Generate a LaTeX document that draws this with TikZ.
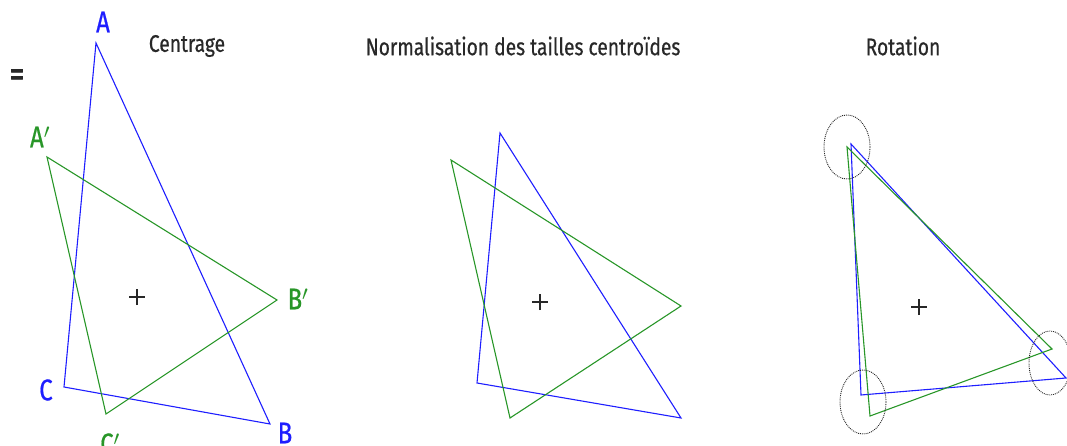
\documentclass[tikz,border=0pt]{standalone}
\usepackage{fontspec}
\setmainfont{Fira Sans}[FakeStretch=0.8,FakeBold=0.6]
\definecolor{tblue}{RGB}{30,30,255}
\definecolor{tgreen}{RGB}{40,150,40}
\definecolor{tgray}{RGB}{40,40,40}
\begin{document}
\begin{tikzpicture}[x=1pt,y=-1pt,
  tri/.style={line width=1.1pt,line join=miter},
  bluetri/.style={tri,draw=tblue},
  greentri/.style={tri,draw=tgreen},
  title/.style={font=\fontsize{24}{26}\selectfont,text=tgray,inner sep=0pt},
  bl/.style={font=\fontsize{30}{32}\selectfont,text=tblue,inner sep=0pt},
  gl/.style={font=\fontsize{30}{32}\selectfont,text=tgreen,inner sep=0pt},
  ring/.style={draw=tgray,densely dotted,line width=0.9pt},
  cross/.style={draw=tgray,line width=1.2pt}]
\useasboundingbox (0,0) rectangle (1067,446);
% titles
\node[title] (t1) at (187,46) {Centrage};
\node[title] (t2) at (523,46) {Normalisation des tailles centroïdes};
\node[title] (t3) at (903,46) {Rotation};
\node[font=\fontsize{36}{38}\selectfont\addfontfeature{FakeBold=2},text=tgray,inner sep=0pt] (eq) at (17,78) {=};
% panel 1
\coordinate (A1) at (96,43); \coordinate (B1) at (270,424); \coordinate (C1) at (64,387);
\coordinate (Ap1) at (47,157); \coordinate (Bp1) at (277,300); \coordinate (Cp1) at (106,414);
\draw[bluetri] (A1) -- (B1) -- (C1) -- cycle;
\draw[greentri] (Ap1) -- (Bp1) -- (Cp1) -- cycle;
\coordinate (G1) at (137,297);
\draw[cross] ([xshift=-8pt]G1) -- ([xshift=8pt]G1) ([yshift=-8pt]G1) -- ([yshift=8pt]G1);
\node[bl] (lA) at (103,22) {A};
\node[bl] (lB) at (285,433) {B};
\node[bl] (lC) at (46,390) {C};
\node[gl] (lAp) at (40,137) {A$'$};
\node[gl] (lBp) at (298,299) {B$'$};
\node[gl] (lCp) at (110,444) {C$'$};
% panel 2
\coordinate (A2) at (500,133); \coordinate (B2) at (681,418); \coordinate (C2) at (477,383);
\coordinate (Ap2) at (451,160); \coordinate (Bp2) at (681,306); \coordinate (Cp2) at (510,418);
\draw[bluetri] (A2) -- (B2) -- (C2) -- cycle;
\draw[greentri] (Ap2) -- (Bp2) -- (Cp2) -- cycle;
\coordinate (G2) at (540,302);
\draw[cross] ([xshift=-8pt]G2) -- ([xshift=8pt]G2) ([yshift=-8pt]G2) -- ([yshift=8pt]G2);
% panel 3
\coordinate (A3) at (851,144); \coordinate (B3) at (1066,378); \coordinate (C3) at (861,395);
\coordinate (Ap3) at (847,147); \coordinate (Bp3) at (1052,349); \coordinate (Cp3) at (870,416);
\draw[bluetri] (A3) -- (B3) -- (C3) -- cycle;
\draw[greentri] (Ap3) -- (Bp3) -- (Cp3) -- cycle;
\coordinate (G3) at (919,307);
\draw[cross] ([xshift=-8pt]G3) -- ([xshift=8pt]G3) ([yshift=-8pt]G3) -- ([yshift=8pt]G3);
\draw[ring] (847,147) ellipse [x radius=23, y radius=32];
\draw[ring] (863,402) ellipse [x radius=23, y radius=32];
\draw[ring] (1050,363) ellipse [x radius=21, y radius=32];
\end{tikzpicture}
\end{document}
